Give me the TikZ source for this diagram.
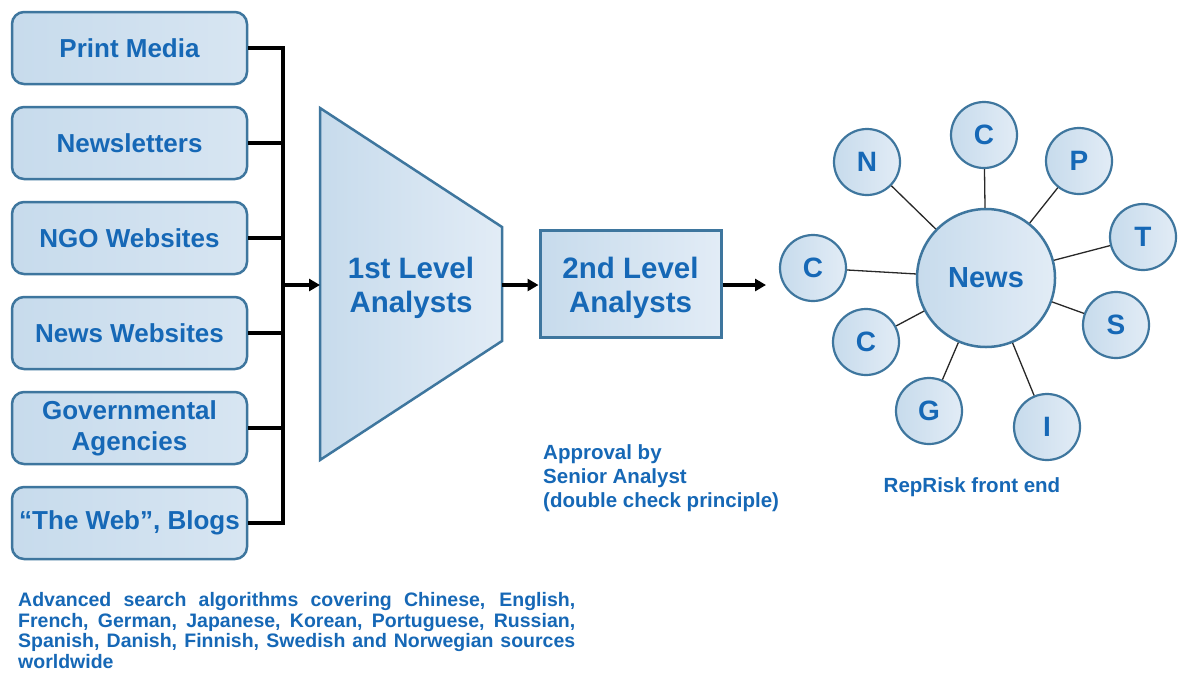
\documentclass[tikz,border=0pt]{standalone}
\usepackage{fontspec}
\setmainfont{Liberation Sans}
\usetikzlibrary{arrows.meta,calc}
\definecolor{txtblue}{RGB}{22,104,182}
\definecolor{edgeblue}{RGB}{62,118,158}
\definecolor{fillA}{RGB}{199,219,236}
\definecolor{fillB}{RGB}{226,236,246}
\definecolor{spokegray}{RGB}{40,40,40}
\tikzset{
 srcbox/.style={draw=edgeblue, line width=2.5pt, rounded corners=12pt,
   minimum width=235pt, minimum height=72pt, left color=fillA, right color=fillB!60!fillA,
   text=txtblue, font=\bfseries\fontsize{26}{31}\selectfont, align=center, inner sep=0pt},
 busline/.style={line width=4pt, black},
 flowarrow/.style={line width=4pt, black, -{Triangle[length=11pt,width=12pt]}},
 bigtext/.style={text=txtblue, font=\bfseries\fontsize{29.5}{34}\selectfont, align=center, inner sep=0pt},
 smalltext/.style={text=txtblue, font=\bfseries\fontsize{20.5}{24}\selectfont, inner sep=0pt},
 topic/.style={circle, draw=edgeblue, line width=2.2pt, minimum size=66pt, inner sep=0pt,
   left color=fillA, right color=fillB, text=txtblue, font=\bfseries\fontsize{28}{34}\selectfont},
 hub/.style={topic, minimum size=138pt, line width=2.5pt, font=\bfseries\fontsize{29}{34}\selectfont},
 spoke/.style={spokegray, line width=1.3pt},
}
\begin{document}
\begin{tikzpicture}[x=1pt,y=-1pt]
\fill[white] (0,0) rectangle (1188,673);
\useasboundingbox (0,0) rectangle (1188,673);

% source boxes
\node[srcbox] (b1) at (129.5,48) {Print Media};
\node[srcbox] (b2) at (129.5,143) {Newsletters};
\node[srcbox] (b3) at (129.5,238) {NGO Websites};
\node[srcbox] (b4) at (129.5,333) {News Websites};
\node[srcbox] (b5) at (129.5,428) {Governmental\\Agencies};
\node[srcbox] (b6) at (129.5,523) {“The Web”, Blogs};

\coordinate (busTop) at (283,48);
\coordinate (busBot) at (283,523);
\draw[busline, line cap=rect] (busTop) -- (busBot);
\foreach \b in {b1,b2,b3,b4,b5,b6}{
  \draw[busline] (\b.east) -- (\b.east -| busTop);
}

% 1st level analysts
\draw[edgeblue, line width=2.5pt, line join=miter, left color=fillA, right color=fillB]
  (320,108) -- (502,227) -- (502,341) -- (320,460) -- cycle;
\coordinate (t1w) at (320,285);
\coordinate (t1e) at (502,285);
\node[bigtext] (t1) at (411,288) {1st Level\\Analysts};
\draw[flowarrow] (busTop |- t1w) -- (t1w);

% 2nd level analysts
\node[draw=edgeblue, line width=3pt, minimum width=181pt, minimum height=107pt,
  left color=fillA, right color=fillB, bigtext] (t2) at (630.5,283.5) {};
\node[bigtext] (t2txt) at (630.5,288) {2nd Level\\Analysts};
\draw[flowarrow] (t1e) -- (t1e -| t2.west);
\coordinate (outEnd) at (766,285);
\draw[flowarrow] (t2.east |- outEnd) -- (outEnd);

% news hub
\node[hub] (news) at (986,278) {News};
\node[topic] (cN) at (867,162) {N};
\node[topic] (cC1) at (984,135) {C};
\node[topic] (cP) at (1079,161) {P};
\node[topic] (cT) at (1143,237) {T};
\node[topic] (cC2) at (813,268) {C};
\node[topic] (cS) at (1116,325) {S};
\node[topic] (cC3) at (866,342) {C};
\node[topic] (cG) at (929,411) {G};
\node[topic] (cI) at (1047,427) {I};
\foreach \c in {cN,cC1,cP,cT,cC2,cS,cC3,cG,cI}{
  \draw[spoke] (news) -- (\c);
}

% labels
\node[smalltext, align=left, anchor=north west] (approval) at (543,444)
  {Approval by\\Senior Analyst\\(double check principle)};
\node[smalltext] (front) at (972,487) {RepRisk front end};
\node[smalltext, anchor=north west, text width=557pt, align=justify,
  font=\bfseries\fontsize{19.5}{20.7}\selectfont] (langs) at (18,592)
  {\hyphenpenalty=10000 Advanced search algorithms covering Chinese, English,\linebreak
   French, German, Japanese, Korean, Portuguese, Russian,\linebreak
   Spanish, Danish, Finnish, Swedish and Norwegian sources\linebreak
   worldwide};
\end{tikzpicture}
\end{document}
